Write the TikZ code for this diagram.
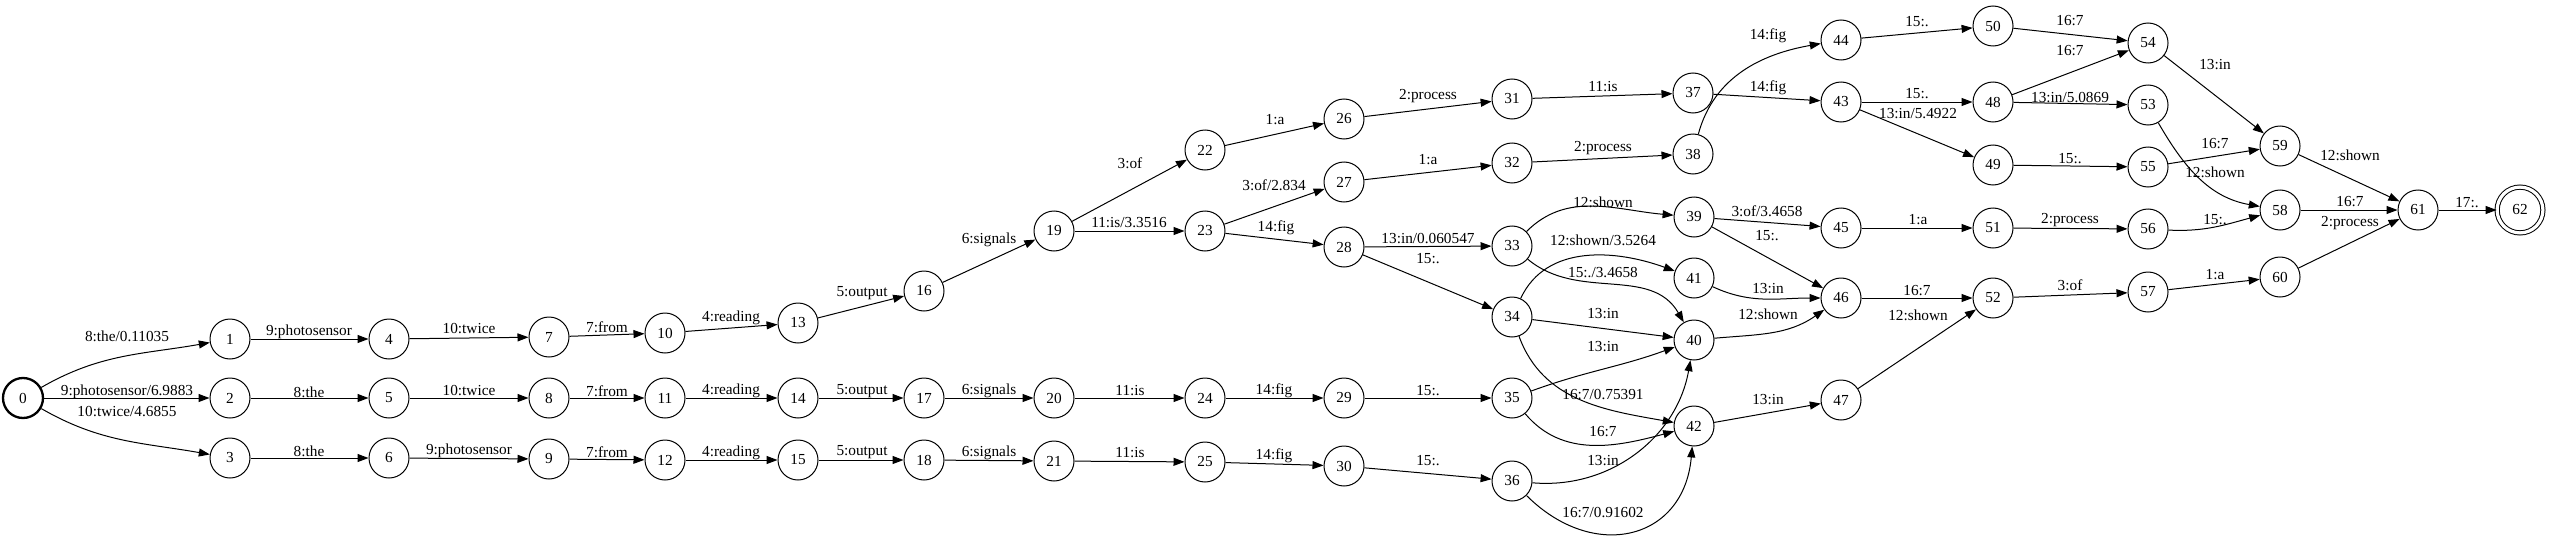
\documentclass[tikz,border=0pt]{standalone}
\usepackage{fontspec}
\setmainfont{Liberation Serif}
\usetikzlibrary{arrows.meta}
\newcommand\edg[5]{\draw[edge] (n#1) #2 (n#3); \node[lab] (t#1x#3) at (#4) {#5};}
\begin{document}
\begin{tikzpicture}[x=1pt,y=1pt,
 st/.style={circle,draw,line width=1pt,minimum size=40pt,inner sep=0pt,font=\fontsize{15.3}{18}\selectfont},
 lab/.style={inner sep=0pt,font=\fontsize{15.3}{18}\selectfont},
 edge/.style={line width=1pt,-{Triangle[length=11pt,width=8pt]}}]
\useasboundingbox (0,0) rectangle (2550,-543);
\node[st,line width=2.3pt] (n0) at (23,-398) {0};
\node[st] (n1) at (230,-339) {1};
\node[st] (n2) at (230,-398) {2};
\node[st] (n3) at (230,-458) {3};
\node[st] (n4) at (389,-339) {4};
\node[st] (n5) at (389,-398) {5};
\node[st] (n6) at (389,-458) {6};
\node[st] (n7) at (549,-337) {7};
\node[st] (n8) at (549,-398) {8};
\node[st] (n9) at (549,-459) {9};
\node[st] (n10) at (665,-333) {10};
\node[st] (n11) at (665,-398) {11};
\node[st] (n12) at (665,-460) {12};
\node[st] (n13) at (798,-323) {13};
\node[st] (n14) at (798,-398) {14};
\node[st] (n15) at (798,-460) {15};
\node[st] (n16) at (924,-291) {16};
\node[st] (n17) at (924,-398) {17};
\node[st] (n18) at (924,-460) {18};
\node[st] (n19) at (1054,-231) {19};
\node[st] (n20) at (1054,-398) {20};
\node[st] (n21) at (1054,-461) {21};
\node[st] (n22) at (1205,-150) {22};
\node[st] (n23) at (1205,-231) {23};
\node[st] (n24) at (1205,-398) {24};
\node[st] (n25) at (1205,-462) {25};
\node[st] (n26) at (1344,-119) {26};
\node[st] (n27) at (1344,-182) {27};
\node[st] (n28) at (1344,-247) {28};
\node[st] (n29) at (1344,-398) {29};
\node[st] (n30) at (1344,-466) {30};
\node[st] (n31) at (1512,-99) {31};
\node[st] (n32) at (1512,-163) {32};
\node[st] (n33) at (1512,-246) {33};
\node[st] (n34) at (1512,-317) {34};
\node[st] (n35) at (1512,-398) {35};
\node[st] (n36) at (1512,-481) {36};
\node[st] (n37) at (1693,-93) {37};
\node[st] (n38) at (1693,-154) {38};
\node[st] (n39) at (1694,-217) {39};
\node[st] (n40) at (1694,-340) {40};
\node[st] (n41) at (1694,-278) {41};
\node[st] (n42) at (1694,-426) {42};
\node[st] (n43) at (1841,-102) {43};
\node[st] (n44) at (1841,-40) {44};
\node[st] (n45) at (1841,-228) {45};
\node[st] (n46) at (1841,-298) {46};
\node[st] (n47) at (1841,-400) {47};
\node[st] (n48) at (1993,-102) {48};
\node[st] (n49) at (1993,-165) {49};
\node[st] (n50) at (1993,-26) {50};
\node[st] (n51) at (1993,-228) {51};
\node[st] (n52) at (1993,-298) {52};
\node[st] (n53) at (2148,-105) {53};
\node[st] (n54) at (2148,-43) {54};
\node[st] (n55) at (2148,-167) {55};
\node[st] (n56) at (2148,-229) {56};
\node[st] (n57) at (2148,-292) {57};
\node[st] (n58) at (2280,-210) {58};
\node[st] (n59) at (2280,-146) {59};
\node[st] (n60) at (2280,-277) {60};
\node[st] (n61) at (2418,-210) {61};
\node[st,double,double distance=3.2pt,minimum size=45.8pt] (n62) at (2520,-210) {62};
\edg{0}{to[out=30,in=190]}{1}{127,-336}{8:the/0.11035}
\edg{0}{--}{2}{127,-392}{9:photosensor/6.9883}
\edg{0}{to[out=-30,in=170]}{3}{127,-412}{10:twice/4.6855}
\edg{1}{--}{4}{309,-332}{9:photosensor}
\edg{2}{--}{5}{309,-392}{8:the}
\edg{3}{--}{6}{309,-451}{8:the}
\edg{4}{--}{7}{469,-329}{10:twice}
\edg{5}{--}{8}{469,-391}{10:twice}
\edg{6}{--}{9}{469,-451}{9:photosensor}
\edg{7}{--}{10}{607,-327}{7:from}
\edg{8}{--}{11}{607,-391}{7:from}
\edg{9}{--}{12}{607,-452}{7:from}
\edg{10}{--}{13}{731,-318}{4:reading}
\edg{11}{--}{14}{731,-391}{4:reading}
\edg{12}{--}{15}{731,-453}{4:reading}
\edg{13}{--}{16}{862,-293}{5:output}
\edg{14}{--}{17}{862,-391}{5:output}
\edg{15}{--}{18}{862,-452}{5:output}
\edg{16}{--}{19}{989,-240}{6:signals}
\edg{17}{--}{20}{989,-391}{6:signals}
\edg{18}{--}{21}{989,-453}{6:signals}
\edg{19}{--}{22}{1130,-163}{3:of}
\edg{19}{--}{23}{1129,-223}{11:is/3.3516}
\edg{20}{--}{24}{1130,-391}{11:is}
\edg{21}{--}{25}{1130,-453}{11:is}
\edg{22}{--}{26}{1275,-120}{1:a}
\edg{23}{--}{27}{1274,-185}{3:of/2.834}
\edg{23}{--}{28}{1276,-228}{14:fig}
\edg{24}{--}{29}{1274,-391}{14:fig}
\edg{25}{--}{30}{1274,-456}{14:fig}
\edg{26}{--}{31}{1428,-96}{2:process}
\edg{27}{--}{32}{1428,-160}{1:a}
\edg{28}{--}{33}{1428,-239}{13:in/0.060547}
\edg{28}{--}{34}{1428,-259}{15:.}
\edg{29}{--}{35}{1428,-391}{15:.}
\edg{30}{--}{36}{1428,-461}{15:.}
\edg{31}{--}{37}{1603,-87}{11:is}
\edg{32}{--}{38}{1603,-148}{2:process}
\edg{33}{to[out=45,in=175]}{39}{1603,-202}{12:shown}
\edg{33}{to[out=-40,in=120]}{40}{1603,-273}{15:./3.4658}
\edg{34}{to[out=65,in=160]}{41}{1603,-240}{12:shown/3.5264}
\edg{34}{--}{40}{1603,-314}{13:in}
\edg{34}{to[out=-70,in=170]}{42}{1603,-395}{16:7/0.75391}
\edg{35}{to[out=20,in=200]}{40}{1603,-347}{13:in}
\edg{35}{to[out=-50,in=195]}{42}{1603,-432}{16:7}
\edg{36}{to[out=-5,in=260]}{40}{1603,-461}{13:in}
\edg{36}{to[out=-45,in=-95,looseness=1.4]}{42}{1603,-513}{16:7/0.91602}
\edg{37}{--}{43}{1768,-88}{14:fig}
\edg{38}{to[out=75,in=190]}{44}{1768,-36}{14:fig}
\edg{39}{--}{45}{1767,-211}{3:of/3.4658}
\edg{39}{--}{46}{1767,-236}{15:.}
\edg{41}{to[out=-25,in=180]}{46}{1768,-289}{13:in}
\edg{40}{to[out=5,in=215]}{46}{1768,-314}{12:shown}
\edg{42}{--}{47}{1768,-400}{13:in}
\edg{43}{--}{48}{1917,-94}{15:.}
\edg{43}{--}{49}{1918,-114}{13:in/5.4922}
\edg{44}{--}{50}{1917,-22}{15:.}
\edg{45}{--}{51}{1918,-220}{1:a}
\edg{46}{--}{52}{1917,-291}{16:7}
\edg{47}{--}{52}{1918,-315}{12:shown}
\edg{50}{--}{54}{2070,-21}{16:7}
\edg{48}{--}{54}{2070,-51}{16:7}
\edg{48}{--}{53}{2070,-98}{13:in/5.0869}
\edg{49}{--}{55}{2070,-159}{15:.}
\edg{51}{--}{56}{2070,-220}{2:process}
\edg{52}{--}{57}{2070,-285}{3:of}
\edg{54}{--}{59}{2215,-65}{13:in}
\edg{55}{--}{59}{2215,-144}{16:7}
\edg{53}{to[out=-60,in=170]}{58}{2215,-172}{12:shown}
\edg{56}{to[out=-3,in=195]}{58}{2215,-220}{15:.}
\edg{57}{--}{60}{2215,-275}{1:a}
\edg{59}{--}{61}{2350,-155}{12:shown}
\edg{58}{--}{61}{2350,-202}{16:7}
\edg{60}{--}{61}{2350,-223}{2:process}
\edg{61}{--}{62}{2467,-203}{17:.}
\end{tikzpicture}
\end{document}
